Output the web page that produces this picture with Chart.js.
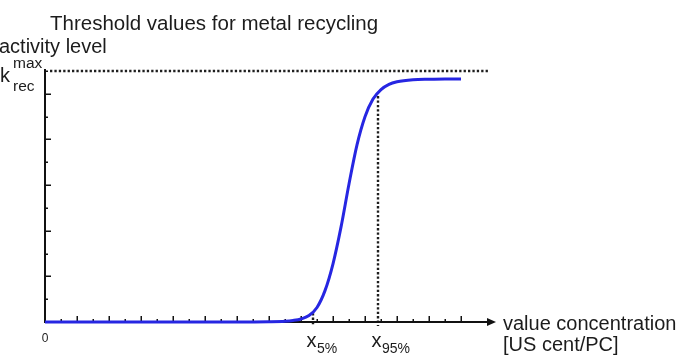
<!DOCTYPE html>
<html><head><meta charset="utf-8">
<script src="https://cdn.jsdelivr.net/npm/chart.js@4/dist/chart.umd.min.js"></script>
<style>html,body{margin:0;padding:0;background:#fff;overflow:hidden}#wrap{width:681px;height:364px;position:relative}</style>
</head><body><div id="wrap"><canvas id="c" width="681" height="364"></canvas></div>
<script>
// x: value concentration (axis units, arrow end at 14), y: activity level as fraction of k_rec^max
const valueConcentration = [0, 1, 2, 3, 4, 5, 6, 7, 7.5, 7.75, 8, 8.25, 8.5, 8.75, 9, 9.25, 9.5, 9.75, 10, 10.25, 10.5, 10.75, 11, 11.5, 12, 12.5, 13];
const activityLevel      = [0, 0, 0, 0, 0, 0, 0, 0.001, 0.003, 0.006, 0.012, 0.026, 0.058, 0.125, 0.232, 0.378, 0.55, 0.706, 0.818, 0.888, 0.926, 0.947, 0.957, 0.965, 0.967, 0.968, 0.968];
const thresholdNames     = ['5%', '95%'];
const thresholdPositions = [8.39, 10.42];
const thresholdLevels    = [0.035, 0.90];
const xAxisMax = 14;
const kMax = 1;
const xTickStep = 0.5;
const xTickLast = 13;
const yTickCount = 11;
const xTickLabels = ['0'];
const chartTitle = 'Threshold values for metal recycling';
const yAxisTitle = 'activity level';
const xAxisTitle = ['value concentration', '[US cent/PC]'];

const FONT = '"Liberation Sans", Arial, Helvetica, sans-serif';
const INK = '#1c1c1c';

const decor = {
  id: 'decor',
  beforeDatasetsDraw(chart) {
    const ctx = chart.ctx, xs = chart.scales.x, ys = chart.scales.y;
    const x0 = xs.getPixelForValue(0), y0 = ys.getPixelForValue(0);
    const yTop = ys.getPixelForValue(kMax);
    const xEnd = xs.getPixelForValue(xAxisMax);
    ctx.save();
    // dotted lines
    ctx.strokeStyle = '#1e1e1e';
    ctx.lineWidth = 2.4;
    ctx.setLineDash([2.3, 2.1]);
    ctx.beginPath();
    ctx.moveTo(x0 + 5, yTop); ctx.lineTo(xEnd - 3, yTop);
    thresholdPositions.forEach((p, i) => {
      const px = Math.round(xs.getPixelForValue(p));
      ctx.moveTo(px, ys.getPixelForValue(thresholdLevels[i]));
      ctx.lineTo(px, y0 + 4);
    });
    ctx.stroke();
    ctx.setLineDash([]);
    // axes
    ctx.strokeStyle = '#111';
    ctx.lineWidth = 2;
    ctx.beginPath();
    ctx.moveTo(x0, yTop - 2); ctx.lineTo(x0, y0);
    ctx.lineTo(xEnd - 4, y0);
    ctx.stroke();
    ctx.fillStyle = '#111';
    ctx.beginPath();
    ctx.moveTo(xEnd + 3, y0); ctx.lineTo(xEnd - 6, y0 - 4); ctx.lineTo(xEnd - 6, y0 + 4); ctx.closePath();
    ctx.fill();
    // ticks
    ctx.lineWidth = 1.5;
    ctx.beginPath();
    for (let v = xTickStep, k = 1; v <= xTickLast + 1e-9; v += xTickStep, k++) {
      const px = Math.round(xs.getPixelForValue(v)) + 0.25;
      const len = (k % 2 === 0) ? 6 : 3;
      ctx.moveTo(px, y0); ctx.lineTo(px, y0 - len);
    }
    for (let k = 1; k <= yTickCount; k++) {
      const py = Math.round(ys.getPixelForValue(kMax * k / yTickCount)) + 0.25;
      const len = (k === yTickCount) ? 3 : ((yTickCount - k) % 2 === 1 ? 6 : 3);
      ctx.moveTo(x0, py); ctx.lineTo(x0 + len, py);
    }
    ctx.stroke();
    ctx.restore();
  },
  afterDraw(chart) {
    const ctx = chart.ctx, xs = chart.scales.x;
    ctx.save();
    ctx.fillStyle = INK;
    ctx.textBaseline = 'alphabetic';
    ctx.textAlign = 'left';
    ctx.font = '20.5px ' + FONT;
    ctx.fillText(chartTitle, 50, 30);
    ctx.font = '20px ' + FONT;
    ctx.fillText(yAxisTitle, -1, 53);
    ctx.fillText('k', 0, 82);
    ctx.fillText(xAxisTitle[0], 503, 330);
    ctx.fillText(xAxisTitle[1], 503, 351);
    thresholdPositions.forEach((p, i) => {
      const px = xs.getPixelForValue(p);
      ctx.font = '20px ' + FONT;
      const xl = px - 7;
      ctx.fillText('x', xl, 347);
      ctx.font = '14px ' + FONT;
      ctx.fillText(thresholdNames[i], xl + 10.5, 353);
    });
    ctx.font = '15.5px ' + FONT;
    ctx.fillText('max', 13, 68);
    ctx.fillText('rec', 13, 91);
    ctx.font = '12px ' + FONT;
    ctx.textAlign = 'center';
    ctx.fillText(xTickLabels[0], xs.getPixelForValue(0), 342);
    ctx.restore();
  }
};

new Chart(document.getElementById('c'), {
  type: 'line',
  data: {
    datasets: [{
      data: valueConcentration.map((x, i) => ({ x: x, y: activityLevel[i] })),
      borderColor: '#2626e2',
      borderWidth: 3,
      pointRadius: 0,
      fill: false,
      cubicInterpolationMode: 'monotone',
      clip: false
    }]
  },
  options: {
    responsive: false,
    animation: false,
    devicePixelRatio: 1,
    layout: { padding: { left: 45, right: 188, top: 71, bottom: 42 } },
    scales: {
      x: { type: 'linear', min: 0, max: xAxisMax, display: false },
      y: { type: 'linear', min: 0, max: kMax, display: false }
    },
    plugins: { legend: { display: false }, tooltip: { enabled: false }, title: { display: false } }
  },
  plugins: [decor]
});
</script>
</body></html>
